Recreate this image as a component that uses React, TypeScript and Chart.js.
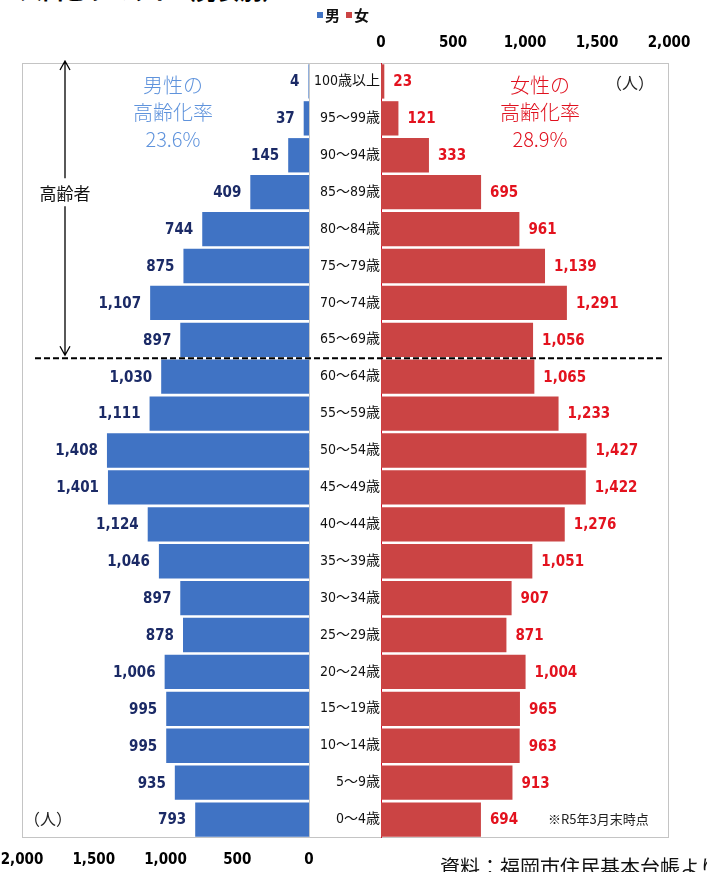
import React, { useEffect, useRef } from 'react';
import { Chart, registerables } from 'chart.js';

Chart.register(...registerables);

const ageGroups = [
  '100歳以上', '95～99歳', '90～94歳', '85～89歳', '80～84歳', '75～79歳', '70～74歳',
  '65～69歳', '60～64歳', '55～59歳', '50～54歳', '45～49歳', '40～44歳', '35～39歳',
  '30～34歳', '25～29歳', '20～24歳', '15～19歳', '10～14歳', '5～9歳', '0～4歳',
];
const maleValues = [4, 37, 145, 409, 744, 875, 1107, 897, 1030, 1111, 1408, 1401, 1124, 1046, 897, 878, 1006, 995, 995, 935, 793];
const femaleValues = [23, 121, 333, 695, 961, 1139, 1291, 1056, 1065, 1233, 1427, 1422, 1276, 1051, 907, 871, 1004, 965, 963, 913, 694];
const axisTicks = [0, 500, 1000, 1500, 2000];
const elderlyBoundaryIndex = 7; // last elderly row (65～69歳)
const elderlyLabelIndex = 3;

const MALE_COLOR = '#4073c4';
const FEMALE_COLOR = '#cb4444';
const NUM_FONT = "'Liberation Sans Narrow', 'DejaVu Sans Condensed', 'Noto Sans CJK JP', sans-serif";
const JP_FONT = "'Noto Sans CJK JP', sans-serif";

const fmt = (v: number) => v.toLocaleString('en-US');

const valueLabelPlugin = {
  id: 'valueLabels',
  afterDatasetsDraw(chart: any, _args: any, opts: any) {
    const ctx = chart.ctx;
    const meta = chart.getDatasetMeta(0);
    const data = chart.data.datasets[0].data as number[];
    ctx.save();
    ctx.font = `bold 15px ${NUM_FONT}`;
    ctx.fillStyle = opts.color;
    ctx.textBaseline = 'middle';
    ctx.textAlign = opts.side === 'left' ? 'right' : 'left';
    meta.data.forEach((bar: any, i: number) => {
      const x = bar.x + (opts.side === 'left' ? -9 : 9);
      ctx.fillText(fmt(data[i]), x, bar.y + 1);
    });
    ctx.restore();
  },
};

const zeroLinePlugin = {
  id: 'zeroLine',
  beforeDatasetsDraw(chart: any, _args: any, opts: any) {
    const ctx = chart.ctx;
    const x = chart.scales.x.getPixelForValue(0);
    ctx.save();
    ctx.strokeStyle = opts.color;
    ctx.lineWidth = 1;
    ctx.beginPath();
    ctx.moveTo(Math.round(x) + 0.5, chart.chartArea.top);
    ctx.lineTo(Math.round(x) + 0.5, chart.chartArea.bottom);
    ctx.stroke();
    ctx.restore();
  },
};

const dashedPlugin = {
  id: 'elderDash',
  afterDatasetsDraw(chart: any, _args: any, opts: any) {
    const ctx = chart.ctx;
    const ys = chart.scales.y;
    const y = (ys.getPixelForValue(elderlyBoundaryIndex) + ys.getPixelForValue(elderlyBoundaryIndex + 1)) / 2;
    ctx.save();
    ctx.strokeStyle = '#000';
    ctx.lineWidth = 2;
    ctx.setLineDash([6, 3]);
    ctx.lineDashOffset = opts.dashOffset || 0;
    ctx.beginPath();
    ctx.moveTo(opts.x0, y);
    ctx.lineTo(opts.x1, y);
    ctx.stroke();
    ctx.setLineDash([]);
    if (opts.arrowX) {
      const ax = opts.arrowX;
      const top = chart.chartArea.top - 2;
      const bottom = y - 3;
      const ty = ys.getPixelForValue(elderlyLabelIndex);
      ctx.lineWidth = 1.3;
      ctx.beginPath();
      ctx.moveTo(ax, top);
      ctx.lineTo(ax, ty - 14);
      ctx.moveTo(ax, ty + 14);
      ctx.lineTo(ax, bottom);
      ctx.moveTo(ax - 5, top + 9);
      ctx.lineTo(ax, top);
      ctx.lineTo(ax + 5, top + 9);
      ctx.moveTo(ax - 5, bottom - 9);
      ctx.lineTo(ax, bottom);
      ctx.lineTo(ax + 5, bottom - 9);
      ctx.stroke();
      ctx.font = `17px ${JP_FONT}`;
      ctx.fillStyle = '#111';
      ctx.textAlign = 'center';
      ctx.textBaseline = 'middle';
      ctx.fillText('高齢者', ax, ty + 1);
    }
    ctx.restore();
  },
};

export default function App() {
  const leftRef = useRef<HTMLCanvasElement>(null);
  const rightRef = useRef<HTMLCanvasElement>(null);

  useEffect(() => {
    document.body.style.margin = '0';
    const male = new Chart(leftRef.current!, {
      type: 'bar',
      data: {
        labels: ageGroups,
        datasets: [{ label: '男', data: maleValues, backgroundColor: MALE_COLOR, borderWidth: 0, barPercentage: 0.93, categoryPercentage: 1 }],
      },
      options: {
        indexAxis: 'y',
        animation: false,
        responsive: false,
        maintainAspectRatio: false,
        devicePixelRatio: 1,
        layout: { padding: { left: 22, right: 21, top: 63, bottom: 0 } },
        scales: {
          x: {
            type: 'linear',
            reverse: true,
            position: 'bottom',
            min: 0,
            max: 2000,
            afterBuildTicks: (s: any) => { s.ticks = axisTicks.map((v) => ({ value: v })); },
            afterFit: (s: any) => { s.height = 34; },
            grid: { display: false },
            border: { display: false },
            ticks: { callback: (v: any) => fmt(Number(v)), color: '#000', font: { family: NUM_FONT, size: 15, weight: 'bold' }, padding: 5, maxRotation: 0 },
          },
          y: { type: 'category', display: false },
        },
        plugins: {
          legend: { display: false },
          tooltip: { enabled: false },
          valueLabels: { color: '#1b2a66', side: 'left' },
          zeroLine: { color: '#c8c8c8' },
          elderDash: { x0: 35, x1: 309, arrowX: 65, dashOffset: 0 },
        } as any,
      },
      plugins: [valueLabelPlugin, zeroLinePlugin, dashedPlugin],
    } as any);

    const female = new Chart(rightRef.current!, {
      type: 'bar',
      data: {
        labels: ageGroups,
        datasets: [{ label: '女', data: femaleValues, backgroundColor: FEMALE_COLOR, borderWidth: 0, barPercentage: 0.93, categoryPercentage: 1 }],
      },
      options: {
        indexAxis: 'y',
        animation: false,
        responsive: false,
        maintainAspectRatio: false,
        devicePixelRatio: 1,
        layout: { padding: { left: 0, right: 38, top: 0, bottom: 34 } },
        scales: {
          x: {
            type: 'linear',
            position: 'top',
            min: 0,
            max: 2000,
            afterBuildTicks: (s: any) => { s.ticks = axisTicks.map((v) => ({ value: v })); },
            afterFit: (s: any) => { s.height = 63; },
            grid: { display: false },
            border: { display: false },
            ticks: { callback: (v: any) => fmt(Number(v)), color: '#000', font: { family: NUM_FONT, size: 15, weight: 'bold' }, padding: 3, maxRotation: 0 },
          },
          y: {
            type: 'category',
            position: 'left',
            afterFit: (s: any) => { s.width = 72; },
            grid: { display: false, drawTicks: false },
            border: { display: false },
            ticks: { autoSkip: false, color: '#111', font: { family: NUM_FONT, size: 14 }, padding: 1 },
          },
        },
        plugins: {
          legend: { display: false },
          tooltip: { enabled: false },
          valueLabels: { color: '#e3121e', side: 'right' },
          zeroLine: { color: '#d0102a' },
          elderDash: { x0: 0, x1: 356, dashOffset: (309 - 35) % 9 },
        } as any,
      },
      plugins: [valueLabelPlugin, zeroLinePlugin, dashedPlugin],
    } as any);

    return () => { male.destroy(); female.destroy(); };
  }, []);

  const abs = (s: React.CSSProperties): React.CSSProperties => ({ position: 'absolute', ...s });

  return (
    <div style={{ position: 'fixed', left: 0, top: 0, width: 707, height: 872, overflow: 'hidden', background: '#fff', fontFamily: JP_FONT }}>
      <div style={abs({ left: -2, top: -27, fontSize: 22, fontWeight: 'bold', color: '#000', whiteSpace: 'nowrap' })}>■人口ピラミッド（男女別）</div>
      <div style={abs({ left: 22, top: 63, width: 647, height: 775, border: '1px solid #c4c4c4', boxSizing: 'border-box' })} />
      <canvas ref={leftRef} width={330} height={872} style={abs({ left: 0, top: 0, width: 330, height: 872 })} />
      <canvas ref={rightRef} width={398} height={872} style={abs({ left: 309, top: 0, width: 398, height: 872 })} />
      <div style={abs({ left: 317, top: 4, fontSize: 15, fontWeight: 'bold', color: '#111', whiteSpace: 'nowrap', display: 'flex', alignItems: 'center' })}>
        <span style={{ display: 'inline-block', width: 6, height: 6, background: MALE_COLOR, marginRight: 2 }} />男
        <span style={{ display: 'inline-block', width: 6, height: 6, background: FEMALE_COLOR, marginLeft: 6, marginRight: 2 }} />女
      </div>
      <div style={abs({ left: 93, top: 71, width: 160, textAlign: 'center', fontSize: 20, lineHeight: '27px', fontWeight: 300, color: '#5f93dc' })}>
        男性の<br />高齢化率<br />23.6%
      </div>
      <div style={abs({ left: 460, top: 71, width: 160, textAlign: 'center', fontSize: 20, lineHeight: '27px', fontWeight: 300, color: '#e0101e' })}>
        女性の<br />高齢化率<br />28.9%
      </div>
      <div style={abs({ left: 606, top: 70, fontSize: 16, color: '#222' })}>（人）</div>
      <div style={abs({ left: 24, top: 806, fontSize: 16, color: '#222' })}>（人）</div>
      <div style={abs({ left: 548, top: 809, fontSize: 13, color: '#222', whiteSpace: 'nowrap' })}>※R5年3月末時点</div>
      <div style={abs({ left: 440, top: 852, fontSize: 20, color: '#111', whiteSpace: 'nowrap' })}>資料：福岡市住民基本台帳より</div>
    </div>
  );
}
